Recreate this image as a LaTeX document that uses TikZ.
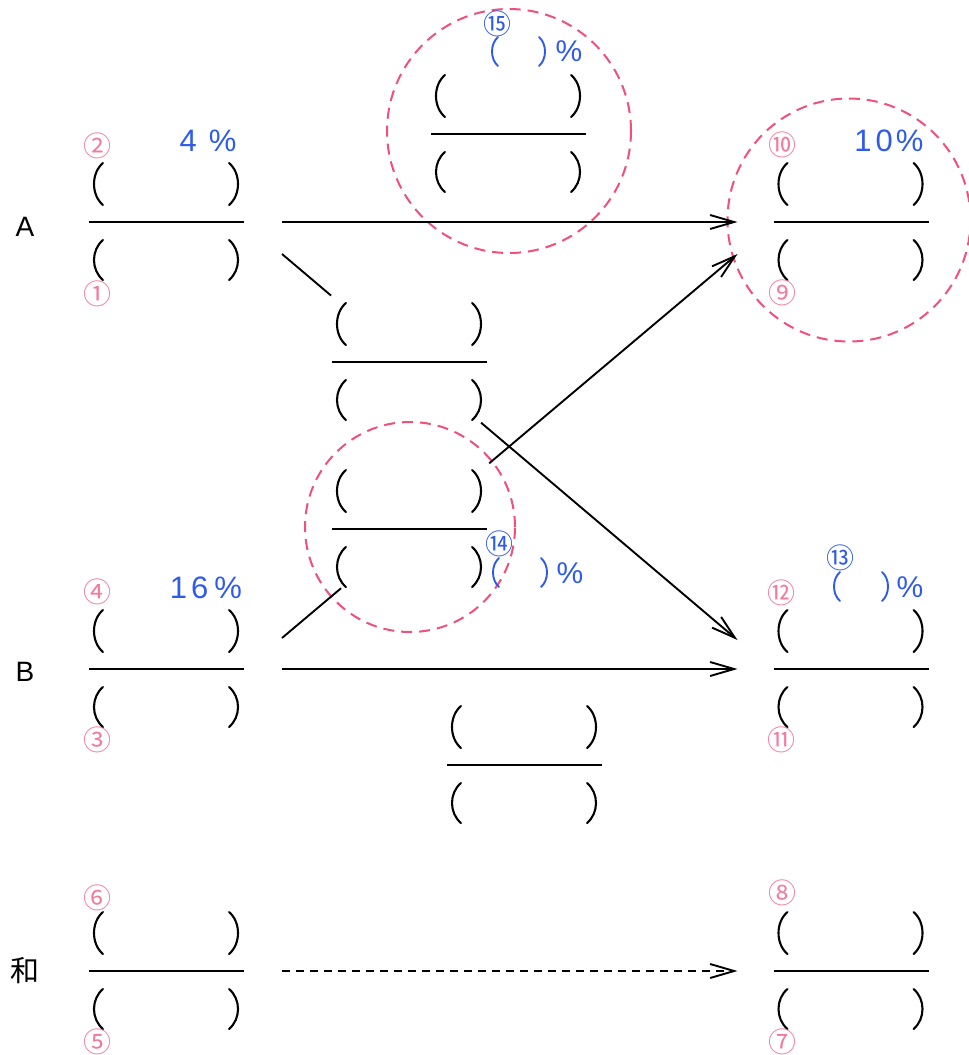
\documentclass[tikz,border=0pt]{standalone}
\usepackage{fontspec}
\setmainfont{Liberation Sans}
\newfontfamily\cjk{Noto Sans CJK JP}
\usetikzlibrary{arrows.meta}
\definecolor{pk}{HTML}{F0507A}
\definecolor{pkl}{HTML}{F47A9C}
\definecolor{bl}{HTML}{2F5BEA}
\newcommand\fracpar[1]{%
 \draw[par] ([shift={(14,-59)}]#1.west) .. controls +(-12,10) and +(-12,-10) .. ([shift={(14,-17)}]#1.west);
 \draw[par] ([shift={(14,18)}]#1.west) .. controls +(-12,10) and +(-12,-10) .. ([shift={(14,58)}]#1.west);
 \draw[par] ([shift={(-15,-59)}]#1.east) .. controls +(12,10) and +(12,-10) .. ([shift={(-15,-17)}]#1.east);
 \draw[par] ([shift={(-15,18)}]#1.east) .. controls +(12,10) and +(12,-10) .. ([shift={(-15,58)}]#1.east);
 \draw[barline] (#1.west) -- (#1.east);}
\begin{document}
\begin{tikzpicture}[x=1pt,y=-1pt,
  fbar/.style={minimum width=155pt, minimum height=0pt, inner sep=0pt, outer sep=0pt},
  par/.style={line width=2.1pt, black, line cap=round},
  bpar/.style={line width=1.9pt, bl, line cap=round},
  barline/.style={line width=2.5pt, black},
  conn/.style={line width=1.9pt, black},
  arr/.style={conn, -{Straight Barb[length=24pt,width=14pt,line width=1.9pt]}},
  dcirc/.style={circle, draw=pk, line width=2pt, dash pattern=on 11pt off 7pt, inner sep=0pt},
  cn/.style={font=\cjk\fontsize{28}{28}\selectfont, text=pkl, inner sep=0pt},
  cnb/.style={font=\cjk\fontsize{28}{28}\selectfont, text=bl, inner sep=0pt},
  blt/.style={font=\fontsize{31}{31}\selectfont, text=bl, inner sep=0pt},
  lab/.style={font=\fontsize{28}{28}\selectfont, inner sep=0pt},
]
\useasboundingbox (0,0) rectangle (969,1055);

% dashed circles
\node[dcirc, minimum size=244pt] (c15) at (509,131) {};
\node[dcirc, minimum size=243pt] (c10) at (849,220) {};
\node[dcirc, minimum size=210pt] (c14) at (410,527) {};

% fractions
\node[fbar] (A1) at (166.5,222) {};
\node[fbar] (B1) at (166.5,669) {};
\node[fbar] (S1) at (166.5,971) {};
\node[fbar] (A2) at (851,222) {};
\node[fbar] (B2) at (851,669) {};
\node[fbar] (S2) at (851,971) {};
\node[fbar] (M1) at (409.5,362) {};
\node[fbar] (M2) at (409.5,529) {};
\node[fbar] (T) at (508.5,134) {};
\node[fbar] (Bt) at (524.5,765) {};
\foreach \n in {A1,B1,S1,A2,B2,S2,M1,M2,T,Bt} {\fracpar{\n}}

% row labels
\node[lab] (lA) at (25,227) {A};
\node[lab] (lB) at (25,672) {B};
\node[lab, font=\cjk\fontsize{29}{29}\selectfont] (lS) at (25,971) {和};

% circled numbers
\node[cn] (n2) at (97,146) {②};
\node[cn] (n1) at (97,294) {①};
\node[cn] (n4) at (97,592) {④};
\node[cn] (n3) at (97,740) {③};
\node[cn] (n6) at (97,898) {⑥};
\node[cn] (n5) at (97,1042) {⑤};
\node[cn] (n10) at (782,145) {⑩};
\node[cn] (n9) at (782,293) {⑨};
\node[cn] (n12) at (781,593) {⑫};
\node[cn] (n11) at (781,740) {⑪};
\node[cn] (n8) at (782,893) {⑧};
\node[cn] (n7) at (782,1042) {⑦};
\node[cnb] (n15) at (497,24) {⑮};
\node[cnb] (n14) at (499,544) {⑭};
\node[cnb] (n13) at (840,558) {⑬};

% blue percentages
\node[blt] (p4) at (208,141) {4\hspace{12pt}\%};
\node[blt] (p16) at (206,588) {1\hspace{4pt}6\hspace{6pt}\%};
\node[blt] (p10) at (889,141) {1\hspace{4pt}0\hspace{3pt}\%};

% blue ( ) %
\coordinate (b15l) at (498,37);
\coordinate (b15r) at (539,37);
\coordinate (b14l) at (499,558);
\coordinate (b14r) at (541,558);
\coordinate (b13l) at (840,572);
\coordinate (b13r) at (882,572);
\foreach \b in {b15,b14,b13} {
  \draw[bpar] (\b l) .. controls +(-8,7) and +(-8,-7) .. ([shift={(0,29)}]\b l);
  \draw[bpar] (\b r) .. controls +(8,7) and +(8,-7) .. ([shift={(0,29)}]\b r);
}
\node[blt, font=\fontsize{30}{30}\selectfont] (q15) at (569,51) {\%};
\node[blt, font=\fontsize{30}{30}\selectfont] (q14) at (570,573) {\%};
\node[blt, font=\fontsize{30}{30}\selectfont] (q13) at (910,587) {\%};

% connectors
\draw[arr] ([xshift=38]A1.east) -- ([xshift=-36]A2.west);
\draw[arr] ([xshift=38]B1.east) -- ([xshift=-36]B2.west);
\draw[arr, dash pattern=on 8pt off 6pt] ([xshift=38]S1.east) -- ([xshift=-36]S2.west);

\coordinate (a1s) at ([shift={(38,32)}]A1.east);
\coordinate (b2e) at ([shift={(-36,-29)}]B2.west);
\path (a1s) -- (b2e) coordinate[pos=0.1077] (a1m) coordinate[pos=0.437] (m1o);
\draw[conn] (a1s) -- (a1m);
\draw[arr] (m1o) -- (b2e);

\coordinate (b1s) at ([shift={(38,-31)}]B1.east);
\coordinate (a2e) at ([shift={(-36,32)}]A2.west);
\path (b1s) -- (a2e) coordinate[pos=0.1297] (b1m) coordinate[pos=0.455] (m2o);
\draw[conn] (b1s) -- (b1m);
\draw[arr] (m2o) -- (a2e);
\end{tikzpicture}
\end{document}
